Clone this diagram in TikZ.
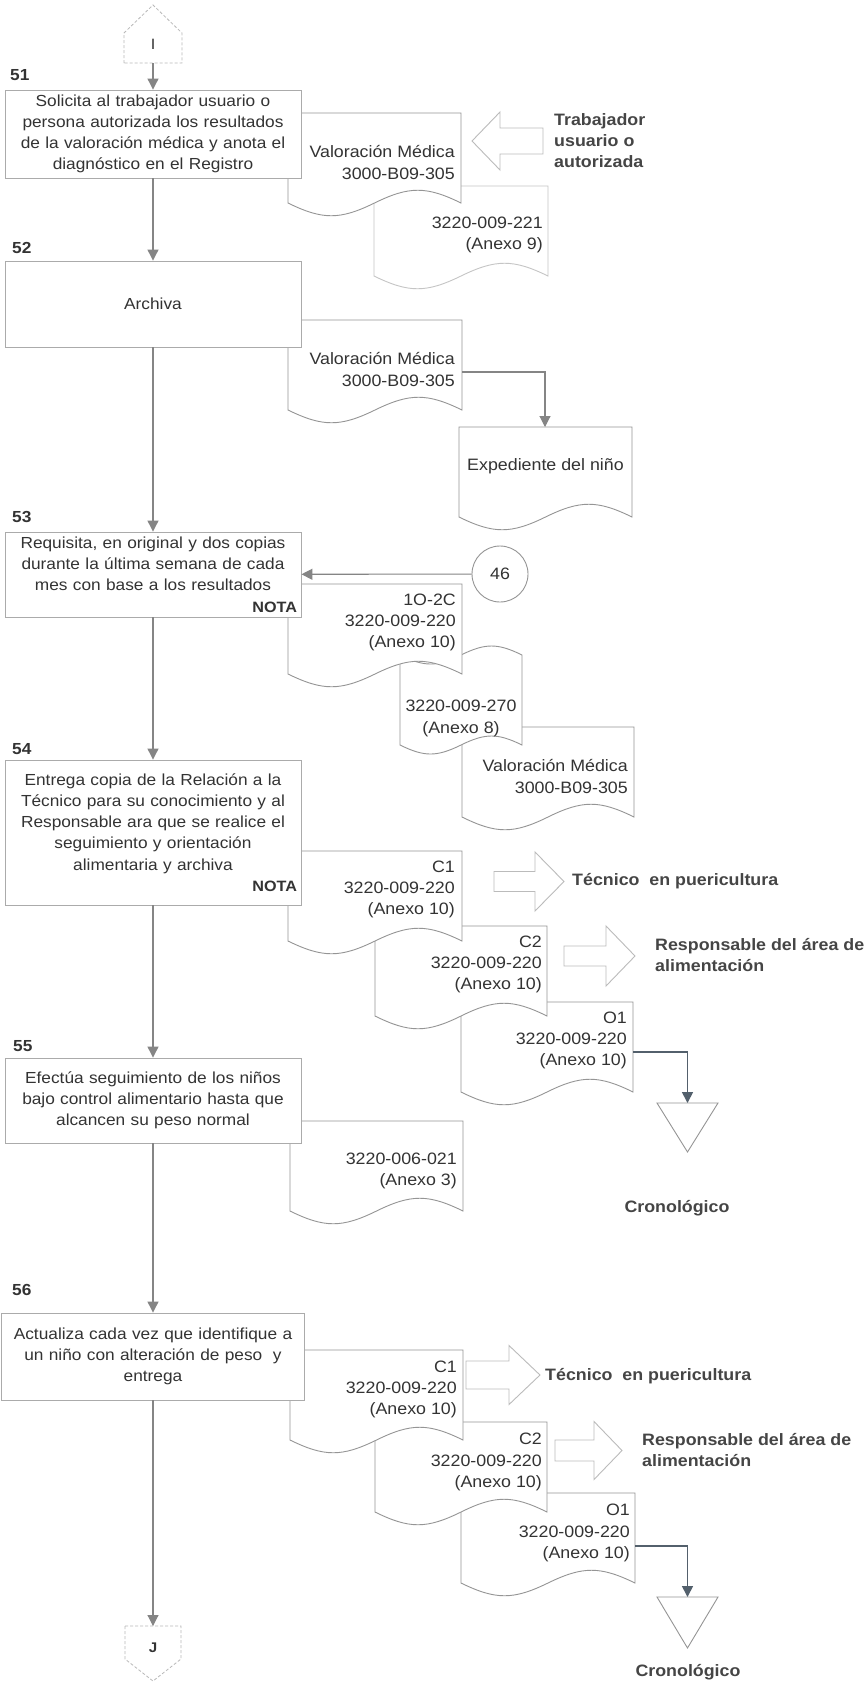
\documentclass[tikz,border=0pt]{standalone}
\usepackage{fontspec}
\setmainfont{Liberation Sans}[FakeStretch=1.08]
\usetikzlibrary{arrows.meta}

\definecolor{ink}{HTML}{333333}
\definecolor{labelink}{HTML}{454545}
\definecolor{boxline}{HTML}{ABABAB}
\definecolor{docgray}{HTML}{959595}
\definecolor{flowgray}{HTML}{858585}
\definecolor{blockgray}{HTML}{BBBBBB}
\definecolor{archline}{HTML}{53606C}

\newcommand{\txtfont}{\fontsize{16.5}{21.2}\selectfont}
\newcommand{\boxfont}{\fontsize{16}{21.2}\selectfont}
\newcommand{\numfont}{\fontsize{16}{18}\selectfont\bfseries}
\newcommand{\notafont}{\fontsize{15}{18}\selectfont\bfseries}
\newcommand{\lblfont}{\fontsize{16.5}{21}\selectfont\bfseries}

% document symbol: left x, top y, width (height 90, wavy bottom)
\newcommand{\docshape}[4][]{%
  \draw[docline,#1] (#2,#3) -- (#2+#4,#3) -- (#2+#4,#3+90)
    .. controls (#2+0.8*#4,#3+73) and (#2+0.7*#4,#3+73) .. (#2+0.5*#4,#3+90)
    .. controls (#2+0.3*#4,#3+107) and (#2+0.2*#4,#3+107) .. (#2,#3+90) -- cycle;}

% hollow block arrow pointing right: shaft x, head base x, tip x, centre y, shaft half, head half
\newcommand{\blockright}[6]{%
  \draw[blockarrow] (#1,#4-#5) -- (#2,#4-#5) -- (#2,#4-#6) -- (#3,#4)
    -- (#2,#4+#6) -- (#2,#4+#5) -- (#1,#4+#5) -- cycle;}

\tikzset{
  procbox/.style={draw=boxline, line width=0.9pt, fill=white, align=center,
    inner xsep=4pt, inner ysep=0pt, font=\boxfont, text=ink},
  docline/.style={draw=docgray, line width=0.9pt, fill=white},
  doctext/.style={font=\txtfont, text=ink, inner sep=0pt, align=right, anchor=east},
  flow/.style={draw=flowgray, line width=1.1pt, -{Triangle[length=11pt,width=11pt]}},
  archflow/.style={draw=archline, line width=1.7pt, -{Triangle[length=11pt,width=11pt]}},
  blockarrow/.style={draw=blockgray, line width=0.9pt, fill=white},
  archtri/.style={draw=docgray, line width=0.9pt, fill=white},
  offpage/.style={draw=gray!55, line width=0.8pt, dash pattern=on 3pt off 2pt, fill=white},
  steplabel/.style={font=\numfont, text=ink, anchor=west, inner sep=0pt},
  extlabel/.style={font=\lblfont, text=labelink, anchor=west, align=left, inner sep=0pt},
}

\begin{document}
\begin{tikzpicture}[x=1pt,y=-1pt]
\fill[white] (0,0) rectangle (866,1682);
\useasboundingbox (0,0) rectangle (866,1682);

% ---------- off-page connector I ----------
\draw[offpage] (124,63) -- (124,33) -- (153,5) -- (182,33) -- (182,63) -- cycle;
\node[font=\fontsize{15}{17}\selectfont, text=ink, inner sep=0pt] (conIlbl) at (153,44) {I};
\coordinate (conI) at (153,63);

% ---------- step 51 ----------
\docshape[draw=docgray!55]{374}{186}{174}
\node[doctext] (d2) at (543,235) {3220-009-221\\(Anexo 9)};
\docshape{288}{113}{173}
\node[doctext] (d1) at (455,162.5) {Valoración Médica\\3000-B09-305};
\node[steplabel] (n51) at (10,75) {51};
\node[procbox, text width=288pt, minimum height=88pt] (b51) at (153,134)
  {Solicita al trabajador usuario o\\persona autorizada los resultados\\de la valoración médica y anota el\\diagnóstico en el Registro};
\draw[blockarrow] (543,128) -- (500,128) -- (500,112) -- (472,141) -- (500,170) -- (500,154) -- (543,154) -- cycle;
\node[extlabel] (trab) at (554,141) {Trabajador\\usuario o\\autorizada};

% ---------- step 52 ----------
\docshape{288}{320}{174}
\node[doctext] (d3) at (455,369.5) {Valoración Médica\\3000-B09-305};
\coordinate (d3r) at (462,372);
\node[steplabel] (n52) at (12,248) {52};
\node[procbox, text width=288pt, minimum height=86pt] (b52) at (153,304) {Archiva};
\docshape{459}{427}{173}
\node[font=\txtfont, text=ink, inner sep=0pt] (exp) at (545.5,466) {Expediente del niño};
\coordinate (expT) at (545,427);
\draw[flow] (d3r) -| (expT);

% ---------- step 53 ----------
\docshape{462}{727}{172}
\node[doctext] (d6) at (628,776.5) {Valoración Médica\\3000-B09-305};
\draw[docline] (400,655) .. controls (424.4,667) and (436.6,667) .. (461,655)
  .. controls (485.4,643) and (497.6,643) .. (522,655) -- (522,745)
  .. controls (497.6,733) and (485.4,733) .. (461,745)
  .. controls (436.6,757) and (424.4,757) .. (400,745) -- cycle;
\node[doctext, align=center, anchor=center] (d5) at (461,718.5) {3220-009-270\\(Anexo 8)};
\docshape{288}{584}{174}
\node[doctext] (d4) at (456,622.5) {1O-2C\\3220-009-220\\(Anexo 10)};
\node[steplabel] (n53) at (12,517) {53};
\node[procbox, text width=288pt, minimum height=85pt] (b53) at (153,574.5)
  {Requisita, en original y dos copias\\durante la última semana de cada\\mes con base a los resultados\\\mbox{}\hfill{\notafont NOTA}};
\node[draw=docgray, line width=0.9pt, circle, minimum size=56pt, inner sep=0pt, fill=white,
  font=\txtfont, text=ink] (c46) at (500,574) {46};
\draw[flow] (c46) -- (b53);

% ---------- step 54 ----------
\docshape{461}{1002}{172}
\node[doctext] (o1a) at (627,1040.5) {O1\\3220-009-220\\(Anexo 10)};
\docshape{375}{926}{172}
\node[doctext] (c2a) at (542,964.5) {C2\\3220-009-220\\(Anexo 10)};
\docshape{288}{851}{174}
\node[doctext] (c1a) at (455,889.5) {C1\\3220-009-220\\(Anexo 10)};
\node[steplabel] (n54) at (12,749) {54};
\node[procbox, text width=288pt, minimum height=145pt] (b54) at (153,832.5)
  {Entrega copia de la Relación a la\\Técnico para su conocimiento y al\\Responsable ara que se realice el\\seguimiento y orientación\\alimentaria y archiva\\\mbox{}\hfill{\notafont NOTA}};
\blockright{494}{535}{564}{881.5}{10}{29.5}
\node[extlabel] (tec1) at (572,881.5) {Técnico~ en puericultura};
\blockright{564}{606}{635}{956}{10}{30}
\node[extlabel] (resp1) at (655,955.5) {Responsable del área de\\alimentación};
\coordinate (o1ar) at (633,1052);
\coordinate (arc1) at (687.5,1103);
\draw[archtri] (657,1103) -- (718,1103) -- (687.5,1152) -- cycle;
\draw[archflow] (o1ar) -| (arc1);
\node[font=\lblfont, text=labelink, inner sep=0pt] (cron1) at (677,1208) {Cronológico};

% ---------- step 55 ----------
\docshape{290}{1121}{173}
\node[doctext] (d7) at (457,1171) {3220-006-021\\(Anexo 3)};
\node[steplabel] (n55) at (13,1046) {55};
\node[procbox, text width=288pt, minimum height=85pt] (b55) at (153,1100.5)
  {Efectúa seguimiento de los niños\\bajo control alimentario hasta que\\alcancen su peso normal};

% ---------- step 56 ----------
\docshape{461}{1493}{174}
\node[doctext] (o1b) at (630,1533) {O1\\3220-009-220\\(Anexo 10)};
\docshape{375}{1422}{172}
\node[doctext] (c2b) at (542,1462) {C2\\3220-009-220\\(Anexo 10)};
\docshape{290}{1350}{173}
\node[doctext] (c1b) at (457,1389.5) {C1\\3220-009-220\\(Anexo 10)};
\node[steplabel] (n56) at (12,1290) {56};
\node[procbox, text width=295pt, minimum height=87pt] (b56) at (153,1356.5)
  {Actualiza cada vez que identifique a\\un niño con alteración de peso~ y\\entrega};
\blockright{466}{509}{540}{1375}{14}{29.5}
\node[extlabel] (tec2) at (545,1376) {Técnico~ en puericultura};
\blockright{555}{594}{622}{1450.5}{10.5}{29}
\node[extlabel] (resp2) at (642,1450.5) {Responsable del área de\\alimentación};
\coordinate (o1br) at (635,1546);
\coordinate (arc2) at (687.5,1597);
\draw[archtri] (657,1597) -- (718,1597) -- (687.5,1648) -- cycle;
\draw[archflow] (o1br) -| (arc2);
\node[font=\lblfont, text=labelink, inner sep=0pt] (cron2) at (688,1672) {Cronológico};

% ---------- off-page connector J ----------
\draw[offpage] (125,1626) -- (181,1626) -- (181,1659) -- (153,1681) -- (125,1659) -- cycle;
\node[font=\fontsize{14}{16}\selectfont\bfseries, text=ink, inner sep=0pt] (conJlbl) at (153,1648) {J};
\coordinate (conJ) at (153,1626);

% ---------- main flow ----------
\draw[flow] (conI) -- (b51);
\draw[flow] (b51) -- (b52);
\draw[flow] (b52) -- (b53);
\draw[flow] (b53) -- (b54);
\draw[flow] (b54) -- (b55);
\draw[flow] (b55) -- (b56);
\draw[flow] (b56) -- (conJ);
\end{tikzpicture}
\end{document}
